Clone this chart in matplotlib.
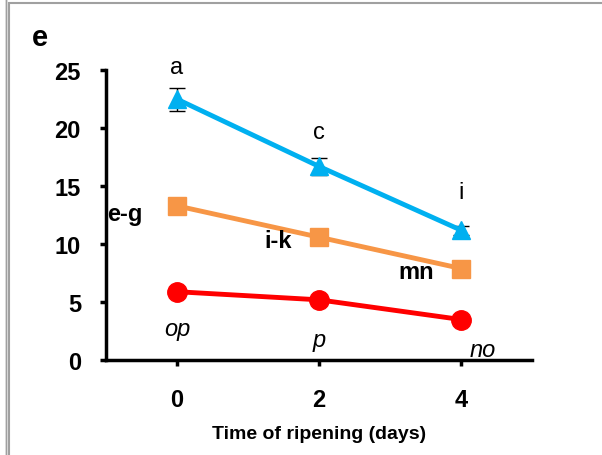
import matplotlib.pyplot as plt
from matplotlib.patches import Rectangle

plt.rcParams['font.family'] = ['Liberation Sans', 'DejaVu Sans']

# Datos
dias = [0, 2, 4]
azul = [22.5, 16.7, 11.2]
azul_err = [1.0, 0.7, 0.4]
naranja = [13.3, 10.6, 7.9]
rojo = [5.9, 5.2, 3.5]

letras_azul = ['a', 'c', 'i']
letras_naranja = ['e-g', 'i-k', 'mn']
letras_rojo = ['op', 'p', 'no']

fig = plt.figure(figsize=(6.02, 4.56), dpi=100)
ax = fig.add_axes([0.176, 0.208, 0.708, 0.636])

# marco gris
fig.patches.append(Rectangle((9/602, -0.1), 1.0, 1 - 4/456 + 0.1, transform=fig.transFigure,
                             fill=False, edgecolor='#a0a0a0', lw=1.5))
fig.patches.append(Rectangle((6/602, -0.1), 0, 1.2, transform=fig.transFigure,
                             fill=False, edgecolor='#a0a0a0', lw=1.0))

ax.plot(dias, rojo, color='#FF0000', marker='o', markersize=14, lw=3.5, zorder=3)
ax.plot(dias, naranja, color='#F79646', marker='s', markersize=12.5, lw=3.5, zorder=3)
ax.errorbar(dias, azul, yerr=azul_err, color='#00B0F0', marker='^', markersize=13, lw=3.5,
            ecolor='black', elinewidth=1, capsize=6, zorder=3)

for x, y, t in zip(dias, [25.3, 19.7, 14.5], letras_azul):
    ax.text(x, y, t, ha='center', va='center', fontsize=17)
ax.text(-0.98, 12.6, letras_naranja[0], ha='left', va='center', fontsize=17, fontweight='bold')
ax.text(1.43, 10.3, letras_naranja[1], ha='center', va='center', fontsize=17, fontweight='bold')
ax.text(3.37, 7.6, letras_naranja[2], ha='center', va='center', fontsize=17, fontweight='bold')
ax.text(0, 2.7, letras_rojo[0], ha='center', va='center', fontsize=17, style='italic')
ax.text(2, 1.8, letras_rojo[1], ha='center', va='center', fontsize=17, style='italic')
ax.text(4.3, 0.95, letras_rojo[2], ha='center', va='center', fontsize=17, style='italic')

ax.set_xlim(-1, 5)
ax.set_ylim(0, 25)
ax.set_xticks(dias)
ax.set_yticks([0, 5, 10, 15, 20, 25])
ax.spines['top'].set_visible(False)
ax.spines['right'].set_visible(False)
ax.spines['left'].set_linewidth(2.5)
ax.spines['bottom'].set_linewidth(2.5)
ax.tick_params(width=2.5, length=4, labelsize=17)
ax.tick_params(axis='x', pad=16)
ax.tick_params(axis='y', pad=14)
for lab in ax.get_xticklabels() + ax.get_yticklabels():
    lab.set_fontweight('bold')
ax.set_xlabel('Time of ripening (days)', fontsize=14, fontweight='bold', labelpad=10)

fig.text(40/602, 1 - 38/456, 'e', fontsize=21, fontweight='bold', ha='center', va='center')

fig.savefig('out.png', dpi=100)
